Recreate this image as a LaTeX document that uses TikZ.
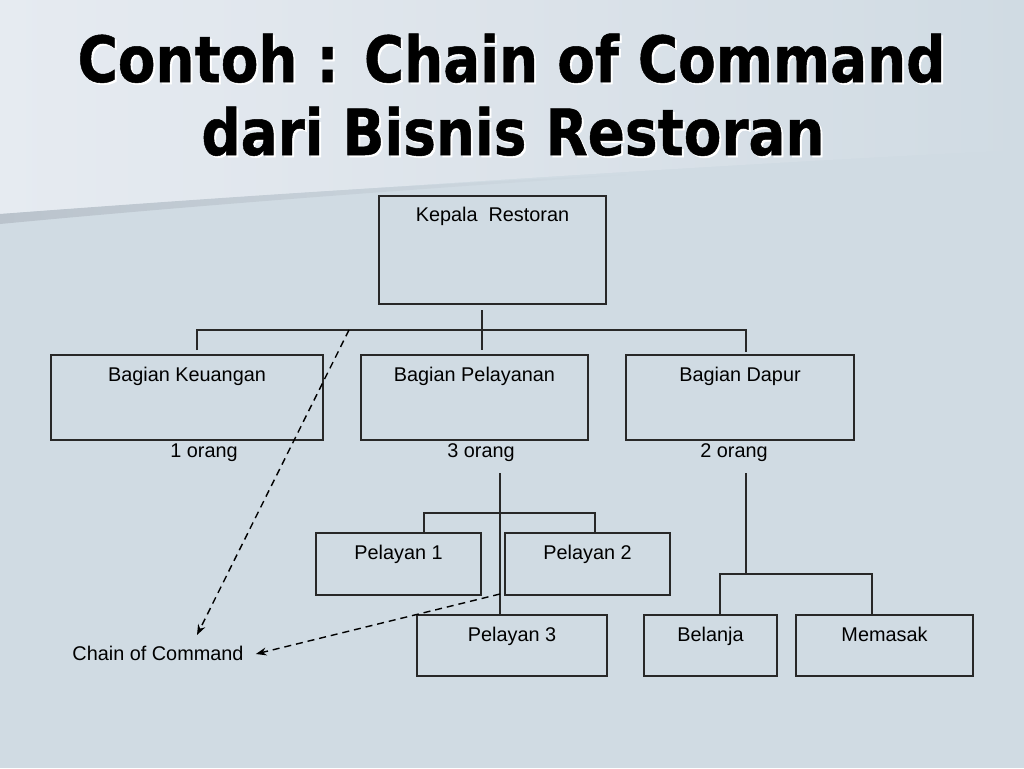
\documentclass[tikz,border=0pt]{standalone}
\usepackage{fontspec}
\setmainfont{Liberation Sans}
\newfontfamily\titlefont[BoldFeatures={FakeBold=0.8}]{DejaVu Sans}
\usetikzlibrary{arrows.meta,calc}
\definecolor{bglow}{RGB}{208,219,227}
\definecolor{bghiL}{RGB}{230,235,241}
\definecolor{bghiM}{RGB}{220,227,234}
\definecolor{bandc}{RGB}{186,195,204}
\definecolor{ink}{RGB}{40,40,40}
\tikzset{
  box/.style={draw=ink, line width=0.8pt, inner sep=0pt, outer sep=0pt},
  lbl/.style={font=\fontsize{11.3pt}{13pt}\selectfont, text=black, inner sep=0pt, anchor=base},
  conn/.style={draw=ink, line width=0.75pt},
  dasharrow/.style={draw=black, line width=0.8pt, dash pattern=on 4pt off 2.8pt, -{Stealth[length=6pt,width=4.5pt]}},
  ttl/.style={font=\titlefont\bfseries\fontsize{36.3pt}{40pt}\selectfont, inner sep=0pt, anchor=base}
}
\begin{document}
\begin{tikzpicture}[x=0.02cm,y=-0.02cm]
\useasboundingbox (0,0) rectangle (1024,768);
% background
\fill[bglow] (0,0) rectangle (1024,768);
\shade[left color=bghiL, right color=bglow, middle color=bghiM] (0,0) -- (1024,0) -- (1024,150) .. controls (800,160) and (400,185) .. (0,214) -- cycle;
\shade[left color=bandc, right color=bglow] (0,214) .. controls (200,199) and (400,185) .. (640,174) .. controls (400,190) and (200,205) .. (0,224) -- cycle;
% title
\node[ttl, text=white] (t1s) at (513.5,84) {\scalebox{0.86}[1]{Contoh : Chain of Command}};
\node[ttl, text=white] (t2s) at (515,157) {\scalebox{0.86}[1]{dari Bisnis Restoran}};
\node[ttl] (t1) at (511.5,82) {\scalebox{0.86}[1]{Contoh : Chain of Command}};
\node[ttl] (t2) at (513,155) {\scalebox{0.86}[1]{dari Bisnis Restoran}};
% boxes
\node[box, minimum width={227*0.02cm}, minimum height={108*0.02cm}] (kep) at (492.5,250) {};
\node[box, minimum width={272*0.02cm}, minimum height={85*0.02cm}] (keu) at (187,397.5) {};
\node[box, minimum width={227*0.02cm}, minimum height={85*0.02cm}] (pel) at (474.5,397.5) {};
\node[box, minimum width={228*0.02cm}, minimum height={85*0.02cm}] (dap) at (740,397.5) {};
\node[box, minimum width={165*0.02cm}, minimum height={62*0.02cm}] (p1) at (398.5,564) {};
\node[box, minimum width={165*0.02cm}, minimum height={62*0.02cm}] (p2) at (587.5,564) {};
\node[box, minimum width={190*0.02cm}, minimum height={61*0.02cm}] (p3) at (512,645.5) {};
\node[box, minimum width={133*0.02cm}, minimum height={61*0.02cm}] (bel) at (710.5,645.5) {};
\node[box, minimum width={177*0.02cm}, minimum height={61*0.02cm}] (mem) at (884.5,645.5) {};
% box labels
\node[lbl] (kept) at ([yshift=-0.5cm]kep.north) {Kepala\ \ Restoran};
\node[lbl] (keut) at ([yshift=-0.52cm]keu.north) {Bagian Keuangan};
\node[lbl] (pelt) at ([yshift=-0.52cm]pel.north) {Bagian Pelayanan};
\node[lbl] (dapt) at ([yshift=-0.52cm]dap.north) {Bagian Dapur};
\node[lbl] (p1t) at ([yshift=-0.52cm]p1.north) {Pelayan 1};
\node[lbl] (p2t) at ([yshift=-0.52cm]p2.north) {Pelayan 2};
\node[lbl] (p3t) at ([yshift=-0.52cm]p3.north) {Pelayan 3};
\node[lbl] (belt) at ([yshift=-0.52cm]bel.north) {Belanja};
\node[lbl] (memt) at ([yshift=-0.52cm]mem.north) {Memasak};
% counts
\node[lbl] (c1) at (204,457) {1 orang};
\node[lbl] (c3) at (481,457) {3 orang};
\node[lbl] (c2) at (734,457) {2 orang};
\node[lbl] (coc) at (158,660) {Chain of Command};
% connector junctions
\coordinate (k0) at (482,310);
\coordinate (b0) at (197,330);
\coordinate (b1) at (746,330);
\coordinate (pv0) at (500,473);
\coordinate (pb0) at (424,513);
\coordinate (pb1) at (595,513);
\coordinate (dv0) at (746,473);
\coordinate (db0) at (720,574);
\coordinate (db1) at (872,574);
% tree lines
\draw[conn] (k0) -- ([yshift=0.1cm]k0 |- pel.north);
\draw[conn] ([yshift=0.1cm]b0 |- keu.north) -- (b0) -- (b1) -- ([yshift=0.06cm]b1 |- dap.north);
\draw[conn] (pv0) -- (pv0 |- p3.north);
\draw[conn] (pb0 |- p1.north) -- (pb0) -- (pb1) -- (pb1 |- p2.north);
\draw[conn] (dv0) -- (dv0 |- db0);
\draw[conn] (db0 |- bel.north) -- (db0) -- (db1) -- (db1 |- mem.north);
% chain of command arrows
\coordinate (a1s) at (349,330);
\coordinate (a1e) at (197,635);
\coordinate (a2s) at (500,594);
\draw[dasharrow] (a1s) -- (a1e);
\draw[dasharrow] (a2s) -- ([xshift=0.24cm]coc.east |- 0,654);
\end{tikzpicture}
\end{document}
